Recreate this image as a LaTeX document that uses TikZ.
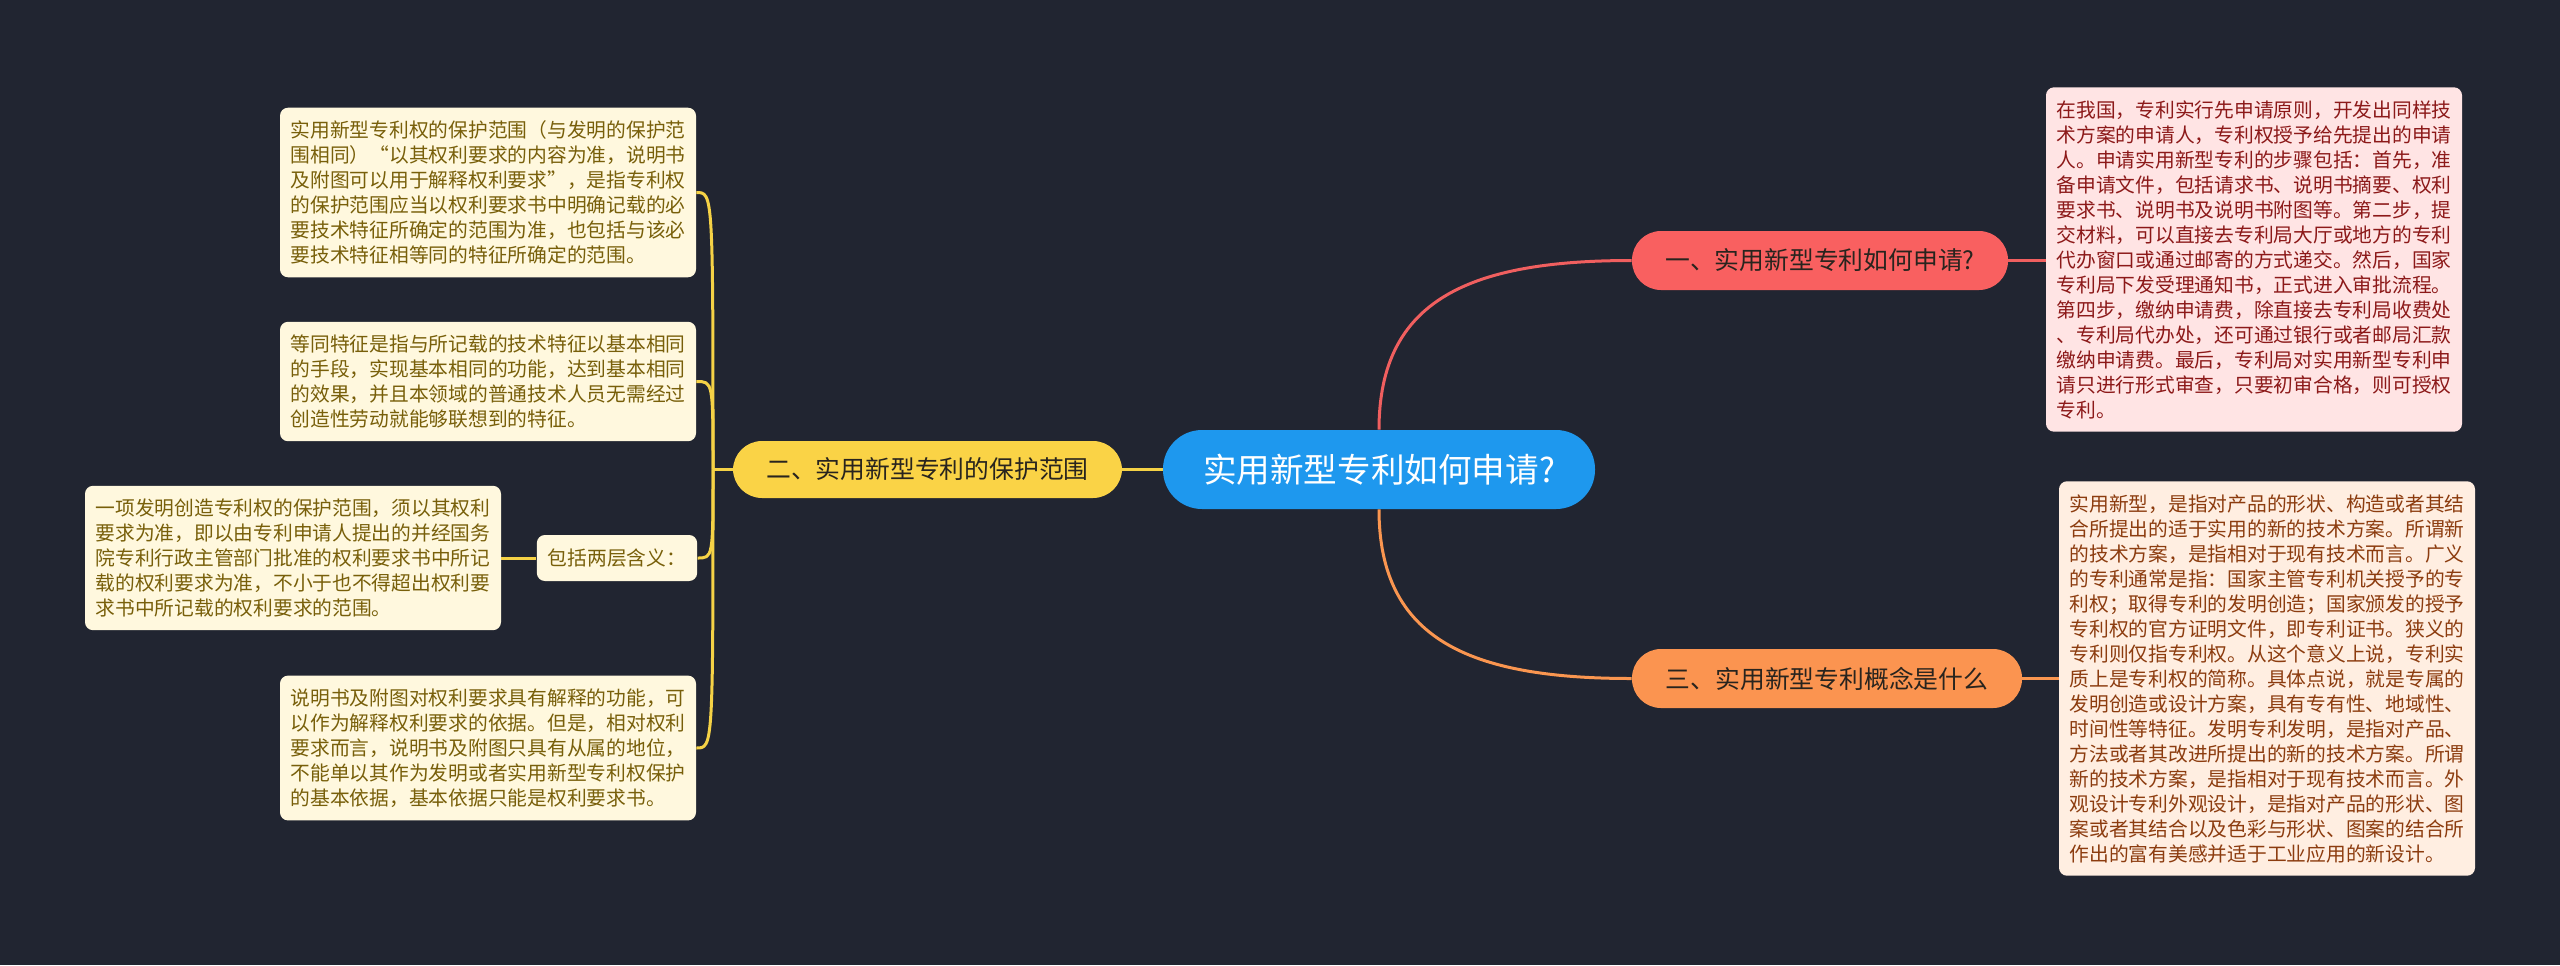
\documentclass[tikz,border=0pt]{standalone}
\usepackage{fontspec}
\setmainfont{Noto Sans CJK SC}
\definecolor{bgc}{RGB}{33,37,49}
\definecolor{cblue}{RGB}{30,152,238}
\definecolor{bred}{RGB}{249,96,96}
\definecolor{borange}{RGB}{251,148,80}
\definecolor{byellow}{RGB}{250,211,70}
\definecolor{lred}{RGB}{240,95,95}
\definecolor{lorange}{RGB}{250,150,80}
\definecolor{lyellow}{RGB}{245,210,70}
\definecolor{yfill}{RGB}{255,248,222}
\definecolor{ytext}{RGB}{120,95,10}
\definecolor{rfill}{RGB}{255,228,228}
\definecolor{rtext}{RGB}{140,25,25}
\definecolor{ofill}{RGB}{255,238,225}
\definecolor{otext}{RGB}{140,60,15}
\definecolor{darktext}{RGB}{40,36,30}
\tikzset{
  note/.style={rounded corners=4pt, align=left, text width=197.5pt, inner xsep=5.25pt, inner ysep=6.5pt, font=\fontsize{9.875}{12.5}\selectfont},
  ynote/.style={note, fill=yfill, text=ytext},
  rnote/.style={note, fill=rfill, text=rtext},
  onote/.style={note, fill=ofill, text=otext},
  centernode/.style={fill=cblue, text=white, rounded corners=19.5pt, minimum width=216pt, minimum height=39.5pt, font=\fontsize{16.8}{18}\selectfont, inner sep=0pt},
  branch/.style={text=darktext, rounded corners=14.5pt, minimum height=29.5pt, font=\fontsize{12.4}{14}\selectfont, inner sep=0pt},
  conn/.style={line width=1.5pt},
}
\begin{document}
\begin{tikzpicture}[x=0.5pt,y=-0.5pt]
\fill[bgc] (0,0) rectangle (2560,965);
\useasboundingbox (0,0) rectangle (2560,965);

% nodes
\node[centernode] (c) at (1379,469.5) {实用新型专利如何申请?};
\node[branch, fill=bred, minimum width=188pt] (r) at (1820,260.5) {一、实用新型专利如何申请?};
\node[branch, fill=borange, minimum width=195pt] (o) at (1827,678.5) {三、实用新型专利概念是什么};
\node[branch, fill=byellow, minimum width=194.5pt, minimum height=28.5pt] (y) at (927.5,469.5) {二、实用新型专利的保护范围};

\node[rnote] (rn) at (2254,259.5) {在我国，专利实行先申请原则，开发出同样技\\
术方案的申请人，专利权授予给先提出的申请\\
人。申请实用新型专利的步骤包括：首先，准\\
备申请文件，包括请求书、说明书摘要、权利\\
要求书、说明书及说明书附图等。第二步，提\\
交材料，可以直接去专利局大厅或地方的专利\\
代办窗口或通过邮寄的方式递交。然后，国家\\
专利局下发受理通知书，正式进入审批流程。\\
第四步，缴纳申请费，除直接去专利局收费处\\
、专利局代办处，还可通过银行或者邮局汇款\\
缴纳申请费。最后，专利局对实用新型专利申\\
请只进行形式审查，只要初审合格，则可授权\\
专利。};

\node[onote] (on) at (2267,678.5) {实用新型，是指对产品的形状、构造或者其结\\
合所提出的适于实用的新的技术方案。所谓新\\
的技术方案，是指相对于现有技术而言。广义\\
的专利通常是指：国家主管专利机关授予的专\\
利权；取得专利的发明创造；国家颁发的授予\\
专利权的官方证明文件，即专利证书。狭义的\\
专利则仅指专利权。从这个意义上说，专利实\\
质上是专利权的简称。具体点说，就是专属的\\
发明创造或设计方案，具有专有性、地域性、\\
时间性等特征。发明专利发明，是指对产品、\\
方法或者其改进所提出的新的技术方案。所谓\\
新的技术方案，是指相对于现有技术而言。外\\
观设计专利外观设计，是指对产品的形状、图\\
案或者其结合以及色彩与形状、图案的结合所\\
作出的富有美感并适于工业应用的新设计。};

\node[ynote] (a) at (488,192.5) {实用新型专利权的保护范围（与发明的保护范\\
围相同）“以其权利要求的内容为准，说明书\\
及附图可以用于解释权利要求”，是指专利权\\
的保护范围应当以权利要求书中明确记载的必\\
要技术特征所确定的范围为准，也包括与该必\\
要技术特征相等同的特征所确定的范围。};

\node[ynote] (b) at (488,381.5) {等同特征是指与所记载的技术特征以基本相同\\
的手段，实现基本相同的功能，达到基本相同\\
的效果，并且本领域的普通技术人员无需经过\\
创造性劳动就能够联想到的特征。};

\node[ynote, rounded corners=4pt, text width=, align=center, minimum height=23pt, inner xsep=5.5pt, inner ysep=0pt] (inc) at (617,558) {包括两层含义：};

\node[ynote] (cc) at (293,558) {一项发明创造专利权的保护范围，须以其权利\\
要求为准，即以由专利申请人提出的并经国务\\
院专利行政主管部门批准的权利要求书中所记\\
载的权利要求为准，不小于也不得超出权利要\\
求书中所记载的权利要求的范围。};

\node[ynote] (d) at (488,748) {说明书及附图对权利要求具有解释的功能，可\\
以作为解释权利要求的依据。但是，相对权利\\
要求而言，说明书及附图只具有从属的地位，\\
不能单以其作为发明或者实用新型专利权保护\\
的基本依据，基本依据只能是权利要求书。};

% connectors right
\draw[conn, lred] (c.north) .. controls +(0,-130) and +(-162,0) .. (r.west);
\draw[conn, lorange] (c.south) .. controls +(0,130) and +(-162,0) .. (o.west);
\draw[conn, lred] (r.east) -- (rn.west |- r.east);
\draw[conn, lorange] (o.east) -- (on.west |- o.east);

% connectors left
\coordinate (yj) at (713,469.5);
\draw[conn, lyellow] (c.west) -- (y.east);
\draw[conn, lyellow] (y.west) -- (yj);
\draw[conn, lyellow] (yj) .. controls (713,192.5) and (713,192.5) .. (a.east);
\draw[conn, lyellow] (yj) .. controls (713,381.5) and (713,381.5) .. (b.east);
\draw[conn, lyellow] (yj) .. controls (713,558) and (713,558) .. (inc.east);
\draw[conn, lyellow] (yj) .. controls (713,748) and (713,748) .. (d.east);
\draw[conn, lyellow] (cc.east) -- (inc.west);
\end{tikzpicture}
\end{document}
